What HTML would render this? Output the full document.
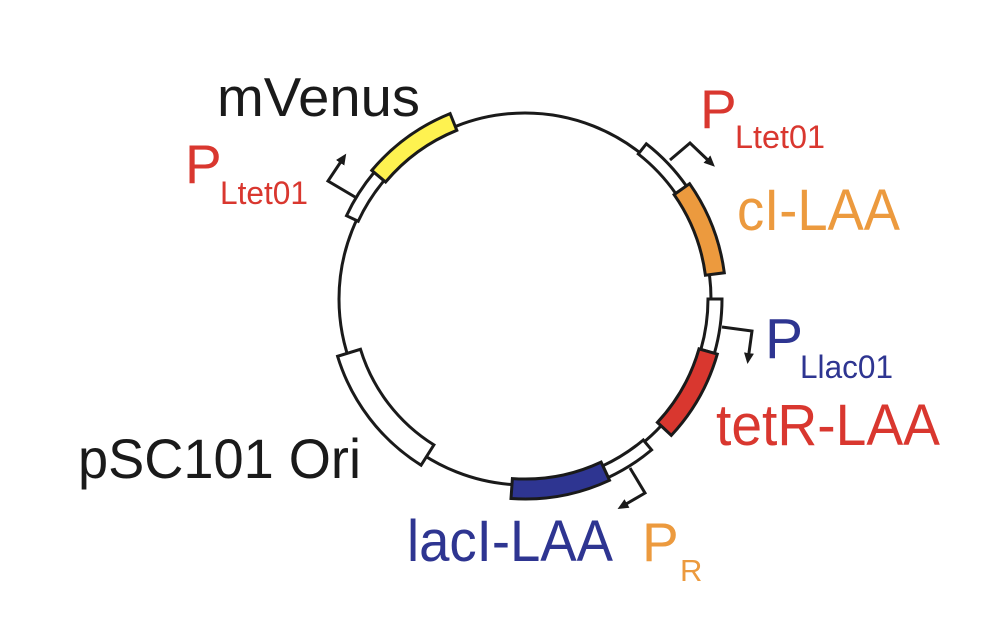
<!DOCTYPE html>
<html><head><meta charset="utf-8"><style>
html,body{margin:0;padding:0;background:#fff;}
svg{display:block}
text{font-family:"Liberation Sans",sans-serif;}
</style></head><body>
<svg id="s" width="992" height="634" viewBox="0 0 992 634" xmlns="http://www.w3.org/2000/svg">
<defs><marker id="ah" markerWidth="11" markerHeight="10" refX="7" refY="5" orient="auto" markerUnits="userSpaceOnUse"><path d="M0,0 L11,5 L0,10 Z" fill="#1a1a1a"/></marker></defs>
<circle cx="525" cy="299" r="186" fill="none" stroke="#1a1a1a" stroke-width="3"/>
<g id="boxes"></g>
<g fill="none" stroke="#1a1a1a" stroke-width="3">
<polyline points="355,197 328,181 344,157" marker-end="url(#ah)"/>
<polyline points="670,160 690,143 712,164" marker-end="url(#ah)"/>
<polyline points="722,327 752,331 748,360" marker-end="url(#ah)"/>
<polyline points="630,468 645,493 621,507" marker-end="url(#ah)"/>
</g>
<text x="217" y="116" font-size="55" fill="#1a1a1a" textLength="203" lengthAdjust="spacingAndGlyphs">mVenus</text>
<text x="185" y="183" font-size="55" fill="#d9372f">P</text>
<text x="220" y="204" font-size="32" fill="#d9372f" textLength="88" lengthAdjust="spacingAndGlyphs">Ltet01</text>
<text x="700" y="128" font-size="55" fill="#d9372f">P</text>
<text x="735" y="148" font-size="32" fill="#d9372f" textLength="90" lengthAdjust="spacingAndGlyphs">Ltet01</text>
<text x="737" y="230" font-size="58" fill="#ec9a3e" textLength="163" lengthAdjust="spacingAndGlyphs">cI-LAA</text>
<text x="765" y="358" font-size="57" fill="#2e3591">P</text>
<text x="800" y="378" font-size="32" fill="#2e3591" textLength="93" lengthAdjust="spacingAndGlyphs">Llac01</text>
<text x="716" y="445" font-size="58" fill="#d9372f" textLength="224" lengthAdjust="spacingAndGlyphs">tetR-LAA</text>
<text x="78" y="478" font-size="56" fill="#1a1a1a" textLength="283" lengthAdjust="spacingAndGlyphs">pSC101 Ori</text>
<text x="407" y="561" font-size="58" fill="#2e3591" textLength="206" lengthAdjust="spacingAndGlyphs">lacI-LAA</text>
<text x="642" y="561" font-size="55" fill="#ec9a3e">P</text>
<text x="680" y="581" font-size="31" fill="#ec9a3e">R</text>
</svg>
<script>
(function(){
var cx=525,cy=299,g=document.getElementById('boxes');
function p(r,a){a=a*Math.PI/180;return (cx+r*Math.cos(a)).toFixed(1)+','+(cy+r*Math.sin(a)).toFixed(1);}
function box(a1,a2,ri,ro,fill){
 var d='M'+p(ri,a1)+' A'+ri+','+ri+' 0 0 1 '+p(ri,a2)+' L'+p(ro,a2)+' A'+ro+','+ro+' 0 0 0 '+p(ro,a1)+' Z';
 var e=document.createElementNS('http://www.w3.org/2000/svg','path');
 e.setAttribute('d',d);e.setAttribute('fill',fill);e.setAttribute('stroke','#1a1a1a');e.setAttribute('stroke-width','3');e.setAttribute('stroke-linejoin','miter');
 g.appendChild(e);
}
box(-155,-140,184,197,'#fff');
box(-140,-112,182,200,'#fef250');
box(-52,-35,184,197,'#fff');
box(-35,-7.5,182,201,'#ec9a3e');
box(0,16,183,197,'#fff');
box(16,43,181,200,'#d9372f');
box(50,65,184,197,'#fff');
box(65,94,180,200,'#2e3591');
box(122,163,172,196,'#fff');
})();
</script>
</body></html>
